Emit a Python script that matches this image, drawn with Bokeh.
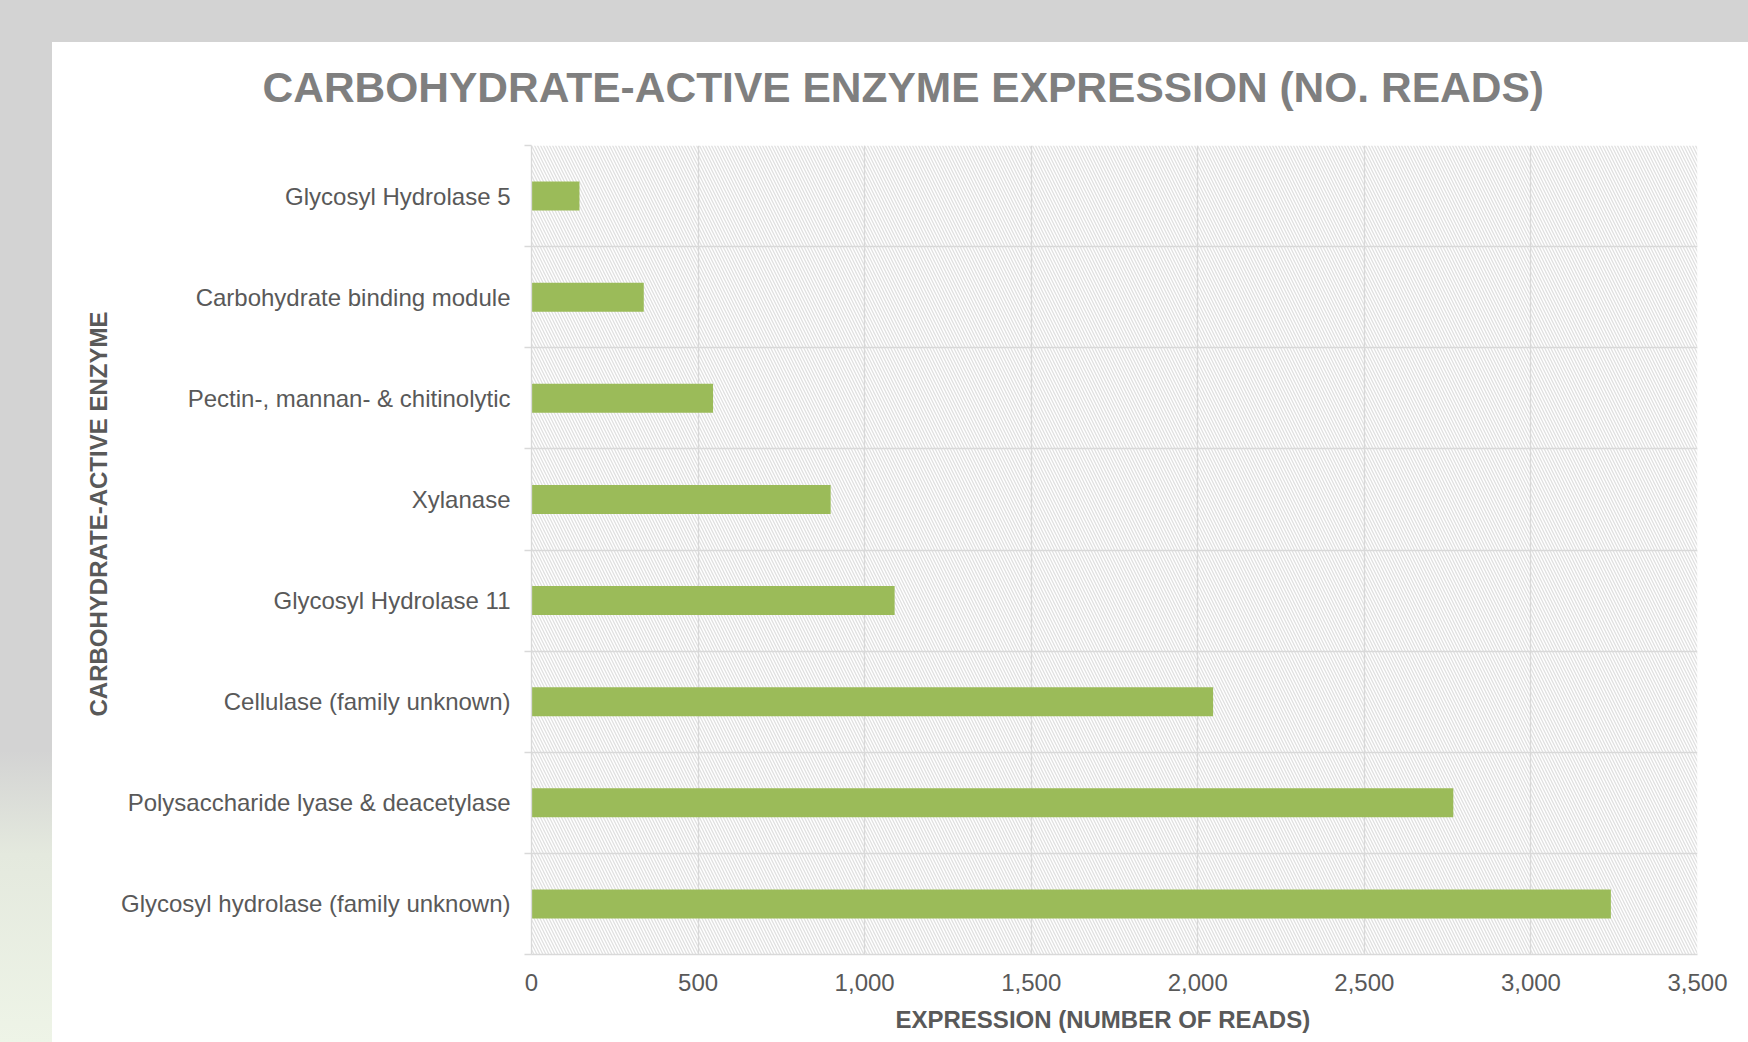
from bokeh.plotting import figure
from bokeh.models import (ColumnDataSource, Range1d, FixedTicker, NumeralTickFormatter, Title)
from bokeh.layouts import column
from bokeh.embed import file_html
from bokeh.resources import INLINE

# ---- data (top to bottom as shown) ----
categories = [
    "Glycosyl Hydrolase 5",
    "Carbohydrate binding module",
    "Pectin-, mannan- & chitinolytic",
    "Xylanase",
    "Glycosyl Hydrolase 11",
    "Cellulase (family unknown)",
    "Polysaccharide lyase & deacetylase",
    "Glycosyl hydrolase (family unknown)",
]
reads = [144, 337, 545, 898, 1090, 2046, 2767, 3240]
x_ticks = [0, 500, 1000, 1500, 2000, 2500, 3000, 3500]

title_text = "CARBOHYDRATE-ACTIVE ENZYME EXPRESSION (NO. READS)"
x_title = "EXPRESSION (NUMBER OF READS)"
y_title = "CARBOHYDRATE-ACTIVE ENZYME"

FONT = "Liberation Sans"
TEXT_COLOR = "#595959"
GRID = "#d9d9d9"
BG_GRAY = "#d3d3d3"

n = len(categories)
pos = list(range(n - 1, -1, -1))          # top category at highest position
bounds = [i - 0.5 for i in range(n + 1)]  # category boundaries

src = ColumnDataSource(dict(y=pos, right=reads, cat=categories))

p = figure(width=1696, height=1017,
           x_range=Range1d(x_ticks[0], x_ticks[-1]),
           y_range=Range1d(bounds[0], bounds[-1]),
           output_backend="svg", toolbar_location=None,
           min_border_left=479, min_border_top=120,
           min_border_right=51, min_border_bottom=87)
p.background_fill_color = "white"
p.border_fill_alpha = 0
p.outline_line_color = None
# white chart panel, its first 17px still showing the grey backdrop
p.styles = {"background": f"linear-gradient({BG_GRAY} 0px, {BG_GRAY} 17px, white 17px, white 100%)"}

# main title
p.title.text = title_text
p.title.align = "left"
p.title.offset = -269
p.title.standoff = 70
p.title.text_font = FONT
p.title.text_font_style = "bold"
p.title.text_font_size = "42.5px"
p.title.text_color = "#7f7f7f"

# hatched plot-area background
p.quad(left=x_ticks[0], right=x_ticks[-1], bottom=bounds[0], top=bounds[-1],
       fill_alpha=0, line_color=None, hatch_pattern="\\", hatch_color="#e0e0e0",
       hatch_scale=6, hatch_weight=1.3, level="image")

p.hbar(y="y", right="right", left=0, height=0.286, source=src,
       fill_color="#9bbb59", line_color=None)

# grids
p.xgrid.ticker = FixedTicker(ticks=x_ticks)
p.ygrid.ticker = FixedTicker(ticks=bounds)
for g in (p.xgrid, p.ygrid):
    g.grid_line_color = GRID
    g.grid_line_width = 1.3

# x axis
xa = p.xaxis[0]
xa.ticker = FixedTicker(ticks=x_ticks)
xa.formatter = NumeralTickFormatter(format="0,0")
xa.major_tick_line_color = None
xa.minor_tick_line_color = None
xa.major_tick_out = 0
xa.major_tick_in = 0
xa.major_label_standoff = 19
xa.axis_line_color = GRID
xa.axis_line_width = 1.5
xa.major_label_text_font = FONT
xa.major_label_text_font_size = "24px"
xa.major_label_text_color = TEXT_COLOR

# y axis: labels at category centres, small ticks at boundaries
ya = p.yaxis[0]
ya.ticker = FixedTicker(ticks=pos, minor_ticks=bounds)
ya.major_label_overrides = {pp: c for pp, c in zip(pos, categories)}
ya.major_tick_line_color = None
ya.major_tick_out = 0
ya.major_tick_in = 0
ya.minor_tick_line_color = GRID
ya.minor_tick_line_width = 1.3
ya.minor_tick_out = 7
ya.minor_tick_in = 0
ya.major_label_standoff = 14
ya.axis_line_color = GRID
ya.axis_line_width = 1.3
ya.major_label_text_font = FONT
ya.major_label_text_font_size = "24px"
ya.major_label_text_color = TEXT_COLOR

# axis titles as side titles (positioned along the frame)
p.add_layout(Title(text=x_title, align="left", offset=364, standoff=20,
                   text_font=FONT, text_font_style="bold", text_font_size="24px",
                   text_color=TEXT_COLOR), "below")
p.add_layout(Title(text=y_title, align="left", offset=238, standoff=13,
                   text_font=FONT, text_font_style="bold", text_font_size="24px",
                   text_color=TEXT_COLOR), "left")

layout = column(p, styles={
    "background": f"linear-gradient({BG_GRAY} 0%, {BG_GRAY} 72%, #e4e9de 82%, #eef4e7 100%)",
    "padding-left": "52px", "padding-top": "25px"})

open("out.html", "w").write(file_html(layout, INLINE))
